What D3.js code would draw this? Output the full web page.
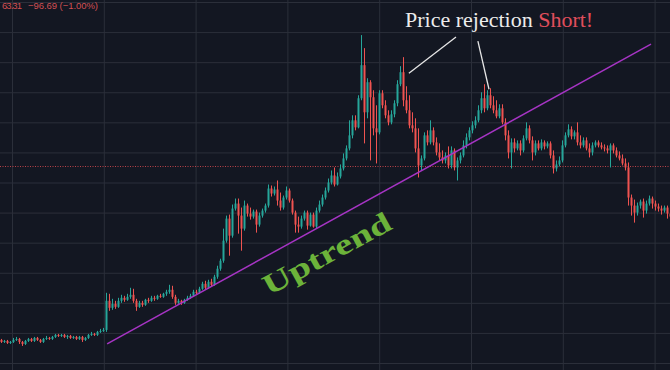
<!DOCTYPE html>
<html>
<head>
<meta charset="utf-8">
<script src="https://cdn.jsdelivr.net/npm/d3@7"></script>
<style>
html,body{margin:0;padding:0;background:#131722;overflow:hidden;}
svg{display:block;}
</style>
</head>
<body>
<svg id="chart" width="670" height="370"></svg>
<script>
// ---- DATA (prices) ----
const open = [8230,8210,8220,8200,8210,8230,8240,8210,8190,8220,8240,8220,8250,8230,8210,8240,8250,8240,8260,8280,8270,8280,8260,8270,8250,8260,8240,8260,8230,8250,8280,8290,8280,8310,8320,
8330,8620,8550,8590,8560,8620,8650,8630,8660,8680,8620,8560,8600,8580,8630,8620,8650,8640,8670,8660,8690,8710,8730,8660,8600,8620,8600,8630,8650,8670,8710,8700,
8740,8790,8750,8810,8780,8860,8940,9020,9220,9440,9270,9540,9590,9470,9340,9570,9490,9460,9510,9380,9470,9520,9570,9740,9690,9730,9620,9550,9650,9720,9620,9500,
9380,9360,9440,9500,9370,9480,9360,9520,9580,9650,9720,9800,9870,9780,9860,9940,10040,10140,10270,10420,10350,10640,10970,10500,10800,10650,10340,10300,10690,10570,10470,
10400,10480,10590,10780,10900,10620,10520,10370,10340,10140,9970,10040,10270,10200,10320,10200,10100,10050,10020,10070,9970,10120,9950,10020,10070,10170,10250,10320,10370,10420,
10520,10640,10540,10670,10570,10520,10460,10540,10400,10270,10100,10200,10140,10190,10120,10240,10340,10220,10100,10190,10140,10200,10160,10190,10070,9940,9980,10020,10170,10270,
10330,10260,10300,10200,10170,10220,10140,10100,10170,10200,10170,10150,10140,10120,10170,10120,10070,10040,9990,9950,9650,9570,9500,9570,9610,9520,9590,9640,9590,9560,9540,9520,9550,9490];
const high = [8240,8230,8230,8220,8250,8260,8250,8220,8230,8250,8250,8260,8260,8240,8250,8270,8260,8270,8290,8290,8290,8290,8280,8280,8270,8270,8270,8270,8260,8290,8310,8300,8320,8340,8350,
8700,8690,8640,8620,8650,8680,8670,8690,8750,8740,8640,8620,8620,8640,8650,8670,8670,8680,8690,8700,8730,8780,8770,8680,8640,8630,8640,8670,8690,8730,8730,8760,
8810,8820,8830,8840,8880,8970,9040,9340,9470,9480,9580,9640,9640,9550,9620,9590,9550,9530,9530,9500,9540,9590,9780,9770,9760,9820,9700,9670,9760,9740,9640,9520,
9460,9470,9520,9520,9500,9500,9550,9620,9680,9750,9840,9920,9950,9900,9980,10090,10170,10420,10470,10470,10670,11270,11140,10840,10820,10720,10570,10720,10720,10620,10520,
10520,10620,10820,10960,11050,10760,10670,10500,10440,10340,10070,10300,10320,10420,10350,10250,10190,10120,10100,10160,10160,10140,10050,10100,10220,10290,10350,10410,10460,10570,
10700,10780,10720,10740,10660,10620,10580,10580,10440,10320,10240,10240,10220,10220,10270,10400,10370,10260,10220,10220,10230,10220,10210,10210,10120,10020,10060,10220,10300,10380,
10360,10320,10400,10270,10250,10250,10190,10200,10220,10220,10200,10180,10170,10190,10190,10150,10110,10080,10040,10000,9680,9630,9600,9630,9640,9620,9670,9660,9620,9590,9570,9570,9570,9520];
const low = [8200,8200,8190,8190,8200,8220,8190,8170,8180,8210,8210,8210,8220,8200,8200,8230,8230,8230,8250,8260,8260,8250,8240,8240,8240,8230,8230,8210,8220,8240,8270,8270,8270,8300,8310,
8310,8520,8530,8540,8550,8600,8610,8620,8640,8600,8520,8550,8560,8570,8600,8610,8620,8630,8650,8650,8670,8690,8640,8580,8590,8580,8590,8620,8640,8660,8680,8690,
8730,8730,8740,8760,8770,8840,8920,9000,9200,9070,9250,9520,9290,9120,9320,9460,9430,9440,9300,9360,9450,9500,9550,9660,9670,9570,9520,9530,9630,9600,9480,9300,
9300,9340,9420,9330,9360,9350,9340,9500,9560,9630,9700,9780,9760,9770,9840,9920,10020,10120,10240,10320,10340,10620,10190,10440,10020,10270,9990,10280,10540,10440,10370,
10380,10450,10560,10760,10560,10490,10340,10300,10100,9850,9920,10020,10170,10180,10170,10070,10020,9990,9990,9940,9940,9920,9820,9990,10050,10140,10220,10290,10340,10400,
10490,10500,10520,10540,10490,10440,10440,10380,10220,10040,9940,10100,10120,10070,10100,10220,10190,10020,10070,10120,10120,10130,10140,10040,9890,9910,9960,10000,10150,10250,
10230,10230,10170,10140,10150,10120,10050,10070,10150,10150,10130,10110,10090,9950,10090,10050,10020,9970,9920,9570,9470,9400,9470,9540,9450,9490,9570,9540,9520,9510,9480,9500,9440,9420];
const close = [8210,8220,8200,8210,8230,8240,8210,8190,8220,8240,8220,8250,8230,8210,8240,8250,8240,8260,8280,8270,8280,8260,8270,8250,8260,8240,8260,8230,8250,8280,8290,8280,8310,8320,8330,
8620,8550,8590,8560,8620,8650,8630,8660,8680,8620,8560,8600,8580,8630,8620,8650,8640,8670,8660,8690,8710,8730,8660,8600,8620,8600,8630,8650,8670,8710,8700,8740,
8790,8750,8810,8780,8860,8940,9020,9220,9440,9270,9540,9590,9470,9340,9570,9490,9460,9510,9380,9470,9520,9570,9740,9690,9730,9620,9550,9650,9720,9620,9500,9380,
9360,9440,9500,9370,9480,9360,9520,9580,9650,9720,9800,9870,9780,9860,9940,10040,10140,10270,10420,10350,10640,10970,10500,10800,10650,10340,10300,10690,10570,10470,10400,
10480,10590,10780,10900,10620,10520,10370,10340,10140,9970,10040,10270,10200,10320,10200,10100,10050,10020,10070,9970,10120,9950,10020,10070,10170,10250,10320,10370,10420,10520,
10640,10540,10670,10570,10520,10460,10540,10400,10270,10100,10200,10140,10190,10120,10240,10340,10220,10100,10190,10140,10200,10160,10190,10070,9940,9980,10020,10170,10270,10330,
10260,10300,10200,10170,10220,10140,10100,10170,10200,10170,10150,10140,10120,10170,10120,10070,10040,9990,9950,9650,9570,9500,9570,9610,9520,9590,9640,9590,9560,9540,9520,9550,9490,9460];

const gridPrices = [8000,8300,8600,8900,9200,9500,9800,10100,10400,10700,11000,11300,11600];
const gridTimes = [4, 34.6, 65.2, 95.8, 126.4, 157, 187.6, 218.2];   // candle index of time gridlines
const refPrice = 9960;                                                // dotted red price line
const trendPoints = [{t: 35.7, p: 8190}, {t: 217, p: 11180}];
const rejectLines = [
  [{t: 152, p: 11250}, {t: 136.3, p: 10890}],
  [{t: 159.3, p: 11210}, {t: 163, p: 10730}]
];
const legendTexts = ["63.31", "\u221296.69 (\u22121.00%)"];
const titleText = ["Price rejection ", "Short!"];
const trendLabel = "Uptrend";

// ---- CHART ----
const W = 670, H = 370;
const N = close.length;
const svg = d3.select("#chart");
svg.append("rect").attr("width", W).attr("height", H).attr("fill", "#131722");

const x = d3.scaleLinear().domain([0, N]).range([0, 672]);
const y = d3.scaleLinear().domain([8000, 11600]).range([363, 2]);

// gridlines through axes
const gx = svg.append("g").attr("transform", `translate(0,${H})`)
  .call(d3.axisBottom(x).tickValues(gridTimes).tickSize(-H).tickFormat(""));
const gy = svg.append("g")
  .call(d3.axisLeft(y).tickValues(gridPrices).tickSize(-W).tickFormat(""));
[gx, gy].forEach(g => {
  g.select(".domain").remove();
  g.selectAll("line").attr("stroke", "#2b2f3a").attr("stroke-width", 1);
});

// dotted price line
svg.append("line")
  .attr("x1", 0).attr("x2", W)
  .attr("y1", Math.round(y(refPrice)) + 0.5).attr("y2", Math.round(y(refPrice)) + 0.5)
  .attr("stroke", "#d9494f").attr("stroke-width", 1).attr("stroke-dasharray", "1,1.5")
  .attr("opacity", 0.85);

const data = close.map((c, i) => ({i, o: open[i], h: high[i], l: low[i], c}));
const up = "#26a69a", dn = "#ef5350";
const bw = 2;

const cg = svg.append("g");
cg.selectAll("line.wick").data(data).enter().append("line")
  .attr("class", "wick")
  .attr("x1", d => x(d.i + 0.5)).attr("x2", d => x(d.i + 0.5))
  .attr("y1", d => y(d.h)).attr("y2", d => y(d.l))
  .attr("stroke", d => d.c >= d.o ? up : dn).attr("stroke-width", 1);
cg.selectAll("rect.body").data(data).enter().append("rect")
  .attr("class", "body")
  .attr("x", d => x(d.i + 0.5) - bw / 2)
  .attr("width", bw)
  .attr("y", d => y(Math.max(d.o, d.c)))
  .attr("height", d => Math.max(1, Math.abs(y(d.o) - y(d.c))))
  .attr("fill", d => d.c >= d.o ? up : dn);

// trend line
svg.append("line")
  .attr("x1", x(trendPoints[0].t)).attr("y1", y(trendPoints[0].p))
  .attr("x2", x(trendPoints[1].t)).attr("y2", y(trendPoints[1].p))
  .attr("stroke", "#a634c4").attr("stroke-width", 1.5);

// annotation lines
rejectLines.forEach(seg => {
  svg.append("line")
    .attr("x1", x(seg[0].t)).attr("y1", y(seg[0].p))
    .attr("x2", x(seg[1].t)).attr("y2", y(seg[1].p))
    .attr("stroke", "#e6e6e6").attr("stroke-width", 1.3);
});

// title
const tt = svg.append("text")
  .attr("x", 405).attr("y", 27)
  .attr("font-family", "'Liberation Serif', 'DejaVu Serif', serif")
  .attr("font-size", 22);
tt.append("tspan").attr("fill", "#ececec").text(titleText[0]);
tt.append("tspan").attr("fill", "#e04e5c").text(titleText[1]);

// Uptrend label
svg.append("text")
  .attr("transform", "translate(269,296) rotate(-28.5)")
  .attr("font-family", "'Liberation Serif', 'DejaVu Serif', serif")
  .attr("font-weight", "bold")
  .attr("font-size", 29)
  .attr("textLength", 142)
  .attr("lengthAdjust", "spacingAndGlyphs")
  .attr("fill", "#6cb33a")
  .text(trendLabel);

// legend (top left)
svg.append("text").attr("x", 2).attr("y", 9)
  .attr("font-family", "'Liberation Sans', Arial, sans-serif").attr("font-size", 9.5)
  .attr("fill", "#d24f52").attr("textLength", 20).text(legendTexts[0]);
svg.append("text").attr("x", 28).attr("y", 9)
  .attr("font-family", "'Liberation Sans', Arial, sans-serif").attr("font-size", 9.5)
  .attr("fill", "#d24f52").attr("textLength", 70).text(legendTexts[1]);
</script>
</body>
</html>
